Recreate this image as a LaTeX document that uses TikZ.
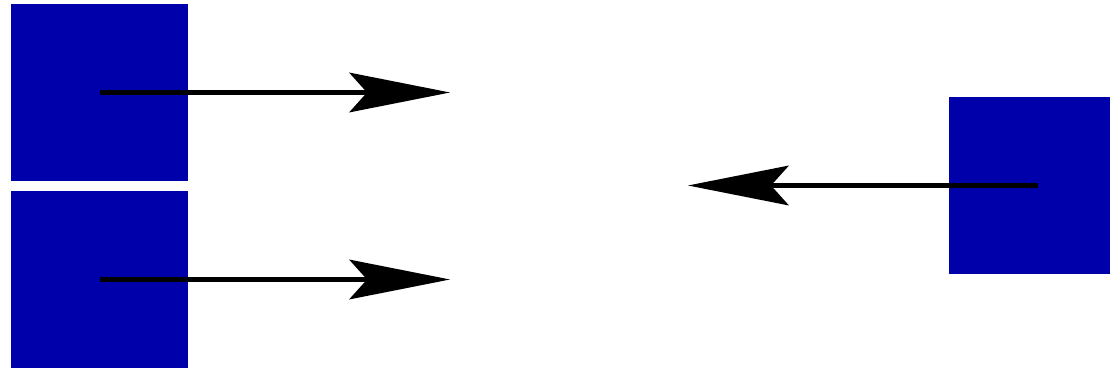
\documentclass[tikz,border=0pt]{standalone}
\usetikzlibrary{arrows.meta}
\definecolor{boxblue}{RGB}{0,0,170}
\tikzset{
  bluebox/.style={rectangle, fill=boxblue, draw=none, inner sep=0pt, minimum width=177pt, minimum height=177pt},
  bigarrow/.style={line width=5pt, -{Stealth[length=101pt, width=40pt, inset=18pt, line width=0pt]}}
}
\begin{document}
\begin{tikzpicture}[x=1pt, y=-1pt]
  \clip (0,0) rectangle (1110,371);
  \useasboundingbox (0,0) rectangle (1110,371);
  \node[bluebox] (a) at (99.5,92.5) {};
  \node[bluebox] (b) at (99.5,279.5) {};
  \node[bluebox] (c) at (1037.5,185.5) {};
  \coordinate (ta) at (450,92.5);
  \coordinate (tb) at (450,279.5);
  \coordinate (tc) at (688,185.5);
  \draw[bigarrow] (a.center) -- (ta);
  \draw[bigarrow] (b.center) -- (tb);
  \draw[bigarrow] (c.center) -- (tc);
\end{tikzpicture}
\end{document}
